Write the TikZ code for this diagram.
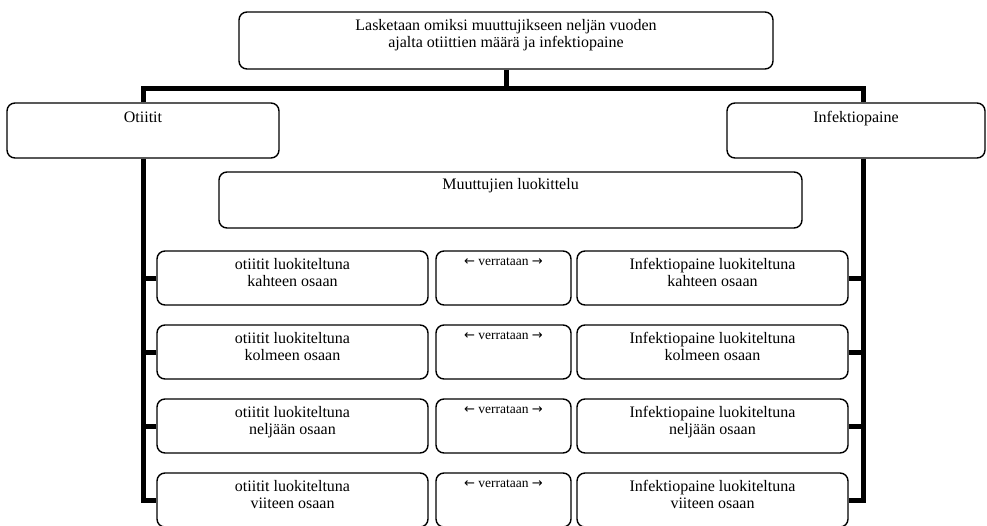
\documentclass[tikz,border=0pt]{standalone}
\usepackage{fontspec}
\setmainfont{Liberation Serif}
\newfontfamily\arrowfont{DejaVu Sans}
\begin{document}
\begin{tikzpicture}[x=1pt,y=-1pt,
  box/.style={draw, line width=1.4pt, rounded corners=8pt, inner sep=0pt, fill=white},
  txt/.style={anchor=base, inner sep=0pt, align=center, font=\fontsize{16}{17.5}\selectfont},
  small/.style={anchor=base, inner sep=0pt, align=center, font=\fontsize{13.5}{14}\selectfont},
  arr/.style={font=\arrowfont\fontsize{13}{14}\selectfont},
  trunk/.style={line width=5pt, line join=miter}]
\useasboundingbox (0,0) rectangle (987,525);
% boxes
\node[box, minimum width=534pt, minimum height=57pt] (top) at (506,40.5) {};
\node[box, minimum width=272pt, minimum height=55pt] (oti) at (143,130.5) {};
\node[box, minimum width=258pt, minimum height=55pt] (inf) at (856,130.5) {};
\node[box, minimum width=583pt, minimum height=56pt] (muut) at (510.5,200) {};
\foreach \i/\y in {1/278,2/352,3/426,4/500}{
  \node[box, minimum width=271pt, minimum height=54pt] (l\i) at (292.5,\y) {};
  \node[box, minimum width=135pt, minimum height=54pt] (m\i) at (503.5,\y) {};
  \node[box, minimum width=271pt, minimum height=54pt] (r\i) at (712.5,\y) {};
}
% texts
\node[txt] (ttop) at ([yshift=-36.5pt]top.north) {Lasketaan omiksi muuttujikseen neljän vuoden\\ajalta otiittien määrä ja infektiopaine};
\node[txt] (toti) at ([yshift=-20pt]oti.north) {Otiitit};
\node[txt] (tinf) at ([yshift=-20pt]inf.north) {Infektiopaine};
\node[txt] (tmuut) at ([yshift=-18pt]muut.north) {Muuttujien luokittelu};
\foreach \i/\w in {1/kahteen,2/kolmeen,3/neljään,4/viiteen}{
  \node[txt] (tl\i) at ([yshift=-36.5pt]l\i.north) {otiitit luokiteltuna\\\w\ osaan};
  \node[small] (tm\i) at ([yshift=-15.5pt]m\i.north) {{\arrowfont\fontsize{13}{14}\selectfont ←} verrataan {\arrowfont\fontsize{13}{14}\selectfont →}};
  \node[txt] (tr\i) at ([yshift=-36.5pt]r\i.north) {Infektiopaine luokiteltuna\\\w\ osaan};
}
% connectors
\coordinate (hL) at (143,88);
\coordinate (hR) at (863,88);
\coordinate (hT) at (top.south |- hL);
\draw[trunk] (top.south) -- (hT);
\draw[trunk] (oti.north) -- (hL) -- (hR) -- (hR |- inf.north);
\draw[trunk] (oti.south) -- (oti.south |- l4.west) -- (l4.west);
\draw[trunk] (hR |- inf.south) -- (hR |- r4.east) -- (r4.east);
\foreach \i in {1,2,3}{
  \draw[trunk] (l\i.west) -- (l\i.west -| oti.south);
  \draw[trunk] (r\i.east) -- (r\i.east -| hR);
}
\end{tikzpicture}
\end{document}
